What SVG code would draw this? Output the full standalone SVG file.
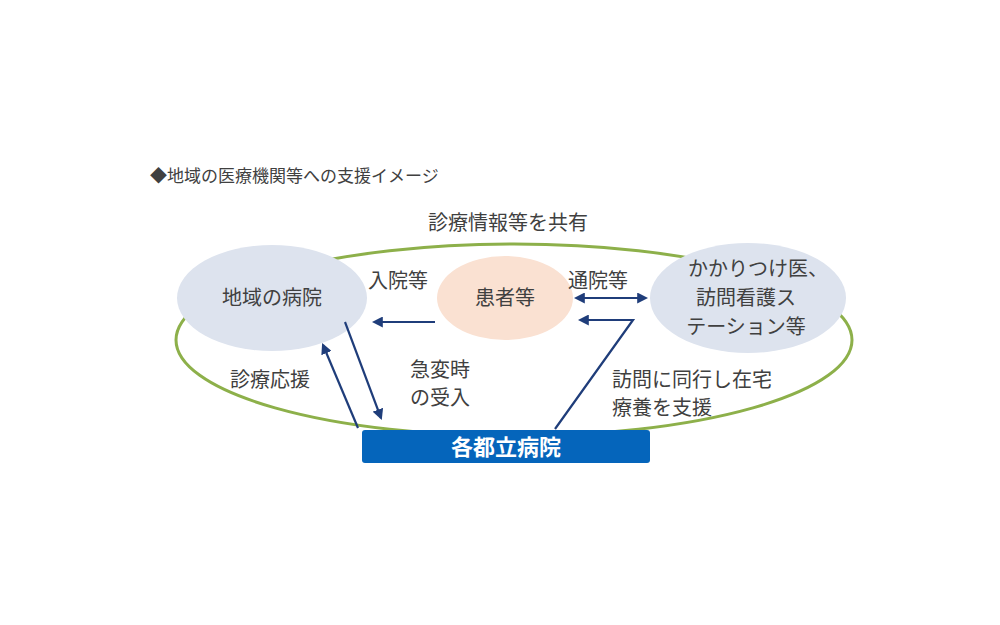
<svg xmlns="http://www.w3.org/2000/svg" width="1000" height="625" viewBox="0 0 1000 625">
<style>
text{font-family:"Noto Sans CJK JP","Noto Sans",sans-serif;fill:#404040}
.l{font-size:20px}
.c{stroke:#1f3d7a;stroke-width:2.2;fill:none}
</style>
<defs><marker id="a" viewBox="0 0 10 10" refX="8" refY="5" markerWidth="5" markerHeight="5" orient="auto-start-reverse"><path d="M0,0L10,5L0,10z" fill="#1f3d7a"/></marker></defs>
<rect width="1000" height="625" fill="#fff"/>
<text x="150" y="182" font-size="17">◆地域の医療機関等への支援イメージ</text>
<text x="508" y="230" class="l" text-anchor="middle">診療情報等を共有</text>
<ellipse cx="514" cy="340" rx="338" ry="96" fill="none" stroke="#8db04a" stroke-width="3"/>
<g id="n1"><ellipse cx="272" cy="298" rx="95" ry="53" fill="#dde3ee"/><text x="272" y="305" class="l" text-anchor="middle">地域の病院</text></g>
<g id="n2"><ellipse cx="505" cy="298" rx="68" ry="42" fill="#fae1d2"/><text x="505" y="305" class="l" text-anchor="middle">患者等</text></g>
<g id="n3"><ellipse cx="748" cy="298" rx="98" ry="55" fill="#dde3ee"/><text x="758" y="276" class="l" text-anchor="middle">かかりつけ医、</text><text x="746" y="305" class="l" text-anchor="middle">訪問看護ス</text><text x="746" y="334" class="l" text-anchor="middle">テーション等</text></g>
<g id="n4"><rect x="362" y="430" width="288" height="33" rx="3" fill="#0565bb"/><text x="506" y="455" font-size="22" font-weight="bold" text-anchor="middle" style="fill:#fff">各都立病院</text></g>
<g id="connectors">
<path class="c" d="M435,322H374" marker-end="url(#a)"/>
<path class="c" d="M576,298H646" marker-start="url(#a)" marker-end="url(#a)"/>
<path class="c" d="M555,429L633,320H580" marker-end="url(#a)"/>
<path class="c" d="M358,428L323,345" marker-end="url(#a)"/>
<path class="c" d="M345,322L381,418" marker-end="url(#a)"/>
</g>
<text x="368" y="288" class="l">入院等</text>
<text x="568" y="288" class="l">通院等</text>
<text x="230" y="387" class="l">診療応援</text>
<text x="410" y="377" class="l">急変時</text>
<text x="410" y="405" class="l">の受入</text>
<text x="612" y="387" class="l">訪問に同行し在宅</text>
<text x="612" y="415" class="l">療養を支援</text>
</svg>
